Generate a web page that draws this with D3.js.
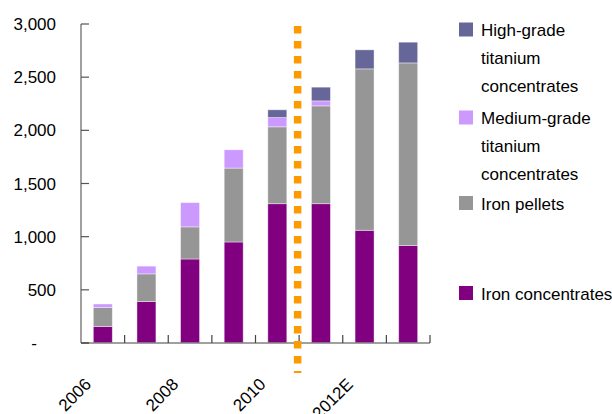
<!DOCTYPE html>
<html>
<head>
<meta charset="utf-8">
<script src="https://cdn.jsdelivr.net/npm/d3@7/dist/d3.min.js"></script>
<style>
  html, body { margin: 0; padding: 0; background: #fff; }
  svg { display: block; font-family: "Liberation Sans", Arial, sans-serif; }
</style>
</head>
<body>
<svg id="chart" width="612" height="414"></svg>
<script>
// Production by product, thousand tonnes
const years = ["2006", "2007", "2008", "2009", "2010", "2011", "2012E", "2013E"];
const xTickLabels = ["2006", "2008", "2010", "2012E"];
const ironConcentrates = [155, 390, 790, 950, 1310, 1310, 1060, 917];
const ironPellets = [180, 260, 302, 695, 723, 920, 1518, 1717];
const mediumGrade = [32, 73, 228, 172, 87, 47, 0, 0];
const highGrade = [0, 0, 0, 0, 73, 129, 179, 195];
const yTicks = [0, 500, 1000, 1500, 2000, 2500, 3000];
const forecastStart = "2011";

const seriesNames = ["Iron concentrates", "Iron pellets", "Medium-grade titanium concentrates", "High-grade titanium concentrates"];
const seriesValues = [ironConcentrates, ironPellets, mediumGrade, highGrade];
const colors = ["#800080", "#969696", "#CC99FF", "#666699"];

const rows = years.map((yr, i) => {
  const r = { year: yr };
  seriesNames.forEach((s, k) => r[s] = seriesValues[k][i]);
  return r;
});

const svg = d3.select("#chart");
const plotLeft = 81, plotRight = 430, plotTop = 24, plotBottom = 343;

const x = d3.scaleBand().domain(years).range([plotLeft, plotRight]).padding(0);
const y = d3.scaleLinear().domain([0, 3000]).range([plotBottom, plotTop]);
const barW = x.bandwidth() * 0.435;

const stack = d3.stack().keys(seriesNames)(rows);

// stacked bars
const g = svg.append("g");
stack.forEach((layer, k) => {
  g.selectAll(null)
    .data(layer.filter(d => d[1] > d[0]))
    .join("rect")
    .attr("x", d => x(d.data.year) + (x.bandwidth() - barW) / 2)
    .attr("y", d => y(d[1]))
    .attr("width", barW)
    .attr("height", d => y(d[0]) - y(d[1]))
    .attr("fill", colors[k])
    .attr("stroke", "#fff")
    .attr("stroke-opacity", 0.5)
    .attr("stroke-width", 0.8);
});

// y axis
const yAxis = svg.append("g").attr("transform", `translate(${plotLeft},0)`);
yAxis.append("line").attr("x1", 0).attr("x2", 0).attr("y1", y(3000)).attr("y2", y(0))
  .attr("stroke", "#6e6e6e").attr("stroke-width", 1.3);
yAxis.selectAll("line.tick").data(yTicks).join("line")
  .attr("class", "tick")
  .attr("x1", 0).attr("x2", 8)
  .attr("y1", d => y(d)).attr("y2", d => y(d))
  .attr("stroke", d => d === 0 ? "#000" : "#555").attr("stroke-width", d => d === 0 ? 2 : 1.2);
yAxis.selectAll("text").data(yTicks).join("text")
  .attr("x", d => d === 0 ? -44 : -25)
  .attr("y", d => y(d))
  .attr("dy", "0.36em")
  .attr("text-anchor", "end")
  .attr("font-size", 17)
  .attr("fill", "#000")
  .text(d => d === 0 ? "-" : d3.format(",")(d));

// x axis with ticks at category boundaries
const xAxis = svg.append("g").attr("transform", `translate(0,${plotBottom})`);
xAxis.append("line").attr("x1", plotLeft).attr("x2", plotRight).attr("y1", 0).attr("y2", 0)
  .attr("stroke", "#808080").attr("stroke-width", 1.5);
const bounds = years.map(d => x(d)).concat([x(years[years.length - 1]) + x.step()]);
xAxis.selectAll("line.tick").data(bounds.slice(1)).join("line")
  .attr("class", "tick")
  .attr("x1", d => d).attr("x2", d => d).attr("y1", 0).attr("y2", -8)
  .attr("stroke", "#444").attr("stroke-width", 1.2);
xAxis.selectAll("text").data(xTickLabels).join("text")
  .attr("transform", d => `translate(${x(d) + x.bandwidth() / 2 - 19},${34}) rotate(-45)`)
  .attr("text-anchor", "end")
  .attr("dy", "0.7em")
  .attr("font-size", 17)
  .attr("fill", "#000")
  .text(d => d);

// forecast divider
const divX = x(forecastStart) - 1.5;
svg.append("line")
  .attr("x1", divX).attr("x2", divX)
  .attr("y1", 26).attr("y2", 373)
  .attr("stroke", "#FF9900")
  .attr("stroke-width", 7.5)
  .attr("stroke-dasharray", "7.5 7.5");

// legend
const legendItems = [
  { color: colors[3], lines: ["High-grade", "titanium", "concentrates"], base: 36 },
  { color: colors[2], lines: ["Medium-grade", "titanium", "concentrates"], base: 124 },
  { color: colors[1], lines: ["Iron pellets"], base: 209.5 },
  { color: colors[0], lines: ["Iron concentrates"], base: 299.5 }
];
const lg = svg.append("g");
legendItems.forEach(item => {
  lg.append("rect")
    .attr("x", 459).attr("y", item.base - 13.5)
    .attr("width", 14).attr("height", 14)
    .attr("fill", item.color);
  const t = lg.append("text")
    .attr("x", 481).attr("y", item.base)
    .attr("font-size", 17).attr("fill", "#000");
  item.lines.forEach((line, i) => {
    t.append("tspan").attr("x", 481).attr("y", item.base + i * 28).text(line);
  });
});
</script>
</body>
</html>
